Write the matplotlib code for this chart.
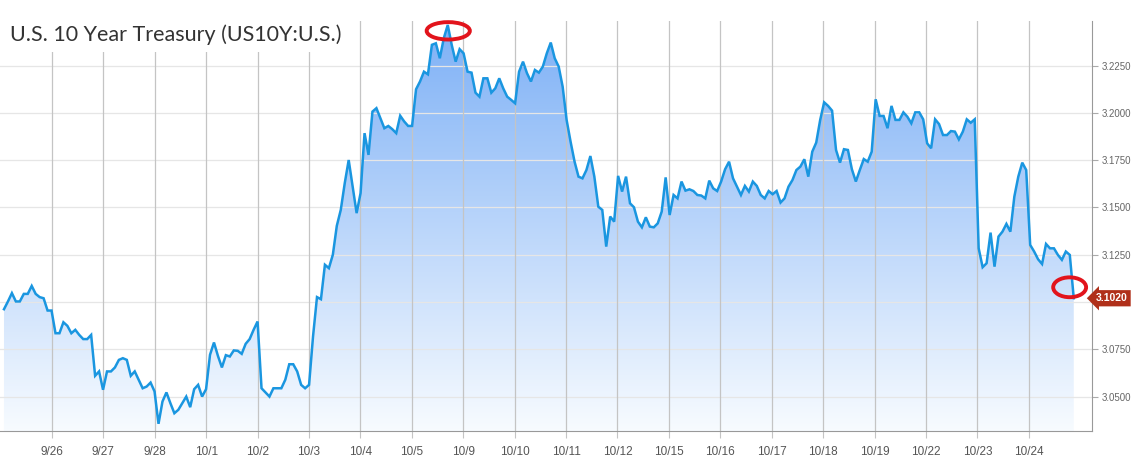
import numpy as np
import matplotlib
matplotlib.use("Agg")
import matplotlib.pyplot as plt
from matplotlib.patches import Ellipse, Rectangle
from matplotlib.transforms import blended_transform_factory

# intraday yield (one list per stretch of the chart)
late_sept = [3.0962, 3.1003, 3.1047, 3.1003, 3.1003, 3.1043, 3.1043, 3.1085, 3.1043, 3.1026,
             3.1020, 3.0955, 3.0955, 3.0835, 3.0835, 3.0893, 3.0874, 3.0835, 3.0853, 3.0826,
             3.0804, 3.0804, 3.0826, 3.0610, 3.0633, 3.0536, 3.0633, 3.0633, 3.0654, 3.0694,
             3.0703, 3.0694, 3.0610, 3.0633, 3.0589, 3.0544, 3.0553, 3.0574, 3.0527, 3.0356,
             3.0474, 3.0522, 3.0465, 3.0412, 3.0430, 3.0465, 3.0500, 3.0444, 3.0539, 3.0562,
             3.0500, 3.0539, 3.0721, 3.0786, 3.0715, 3.0654, 3.0719, 3.0712, 3.0744, 3.0742,
             3.0726, 3.0779, 3.0804, 3.0853, 3.0897, 3.0544, 3.0522, 3.0500, 3.0544, 3.0544,
             3.0544, 3.0589, 3.0671, 3.0671, 3.0633, 3.0562, 3.0544, 3.0562, 3.0818, 3.1026,
             3.1015]
early_oct = [3.1197, 3.1179, 3.1250, 3.1403, 3.1487, 3.1628, 3.1751, 3.1611, 3.1470, 3.1576,
             3.1893, 3.1778, 3.2007, 3.2025, 3.1972, 3.1919, 3.1931, 3.1914, 3.1893, 3.1985,
             3.1955, 3.1931, 3.1931, 3.2125, 3.2166, 3.2218, 3.2204, 3.2360, 3.2368, 3.2289,
             3.2395, 3.2465, 3.2360, 3.2271, 3.2337, 3.2315, 3.2218, 3.2213, 3.2107, 3.2086,
             3.2183, 3.2183, 3.2107, 3.2130, 3.2183, 3.2130, 3.2086, 3.2069, 3.2051, 3.2218,
             3.2271, 3.2210, 3.2166, 3.2227, 3.2213, 3.2245, 3.2315, 3.2372, 3.2289, 3.2245,
             3.2139, 3.1963, 3.1848, 3.1743, 3.1663]
mid_oct = [3.1654, 3.1698, 3.1772, 3.1663, 3.1504, 3.1487, 3.1293, 3.1452, 3.1425, 3.1667,
           3.1584, 3.1663, 3.1522, 3.1501, 3.1425, 3.1395, 3.1448, 3.1399, 3.1395, 3.1416,
           3.1478, 3.1659, 3.1460, 3.1566, 3.1548, 3.1637, 3.1589, 3.1596, 3.1587, 3.1566,
           3.1563, 3.1548, 3.1642, 3.1601, 3.1587, 3.1637, 3.1702, 3.1742, 3.1654, 3.1610,
           3.1566, 3.1614, 3.1584, 3.1637, 3.1614, 3.1566, 3.1548, 3.1587, 3.1570, 3.1587,
           3.1526, 3.1548, 3.1610, 3.1645, 3.1698, 3.1716, 3.1755, 3.1663, 3.1795, 3.1843,
           3.1963, 3.2056, 3.2037, 3.2012, 3.1804, 3.1737, 3.1808, 3.1804, 3.1702, 3.1637,
           3.1698, 3.1756, 3.1742, 3.1795, 3.2072]
late_oct = [3.1984, 3.1984, 3.1919, 3.2037, 3.1963, 3.1963, 3.2003, 3.1980, 3.1945, 3.2003,
            3.2003, 3.1966, 3.1839, 3.1813, 3.1966, 3.1941, 3.1883, 3.1883, 3.1904, 3.1901,
            3.1860, 3.1901, 3.1966, 3.1948, 3.1966, 3.1284, 3.1184, 3.1205, 3.1367, 3.1187,
            3.1346, 3.1372, 3.1413, 3.1372, 3.1557, 3.1663, 3.1737, 3.1698, 3.1302, 3.1267,
            3.1226, 3.1201, 3.1307, 3.1284, 3.1284, 3.1249, 3.1223, 3.1267, 3.1249, 3.1020]

day_labels = ["9/26", "9/27", "9/28", "10/1", "10/2", "10/3", "10/4", "10/5", "10/9", "10/10",
              "10/11", "10/12", "10/15", "10/16", "10/17", "10/18", "10/19", "10/22", "10/23", "10/24"]
y_ticks = [3.05, 3.075, 3.10, 3.125, 3.15, 3.175, 3.20, 3.225]
title = "U.S. 10 Year Treasury (US10Y:U.S.)"

#%%
yld = np.array(late_sept + early_oct + mid_oct + late_oct)
t = np.linspace(0.0665, 20.875, len(yld))   # trading-day units, day k starts at k
ylo, yhi = 3.0318, 3.2486
xlo, xhi = -0.011, 21.22

W, H = 1148, 466
fig = plt.figure(figsize=(W / 100, H / 100), dpi=100)
ax = fig.add_axes([0, 1 - 431 / H, 1091.5 / W, (431 - 21) / H])
ax.set_xlim(xlo, xhi)
ax.set_ylim(ylo, yhi)

# gradient fill under the line
grad = np.linspace(0, 1, 256)[:, None]
top = np.array([0.49, 0.69, 0.965])
bot = np.array([0.97, 0.985, 1.0])
img = grad[..., None] * top + (1 - grad[..., None]) * bot
im = ax.imshow(img, extent=[xlo, xhi, ylo, yhi], origin="lower", aspect="auto", zorder=1)
verts = np.vstack([[t[0], ylo], np.column_stack([t, yld]), [t[-1], ylo]])
clip = plt.Polygon(verts, closed=True, transform=ax.transData, fc="none", ec="none")
ax.add_patch(clip)
im.set_clip_path(clip)

ax.plot(t, yld, color="#1a96e0", lw=1.8, zorder=4, solid_joinstyle="miter")

# grid
for v in y_ticks:
    ax.axhline(v, color="#e6e6e6", lw=0.9, zorder=2)
days = np.arange(1, len(day_labels) + 1)
for d in days:
    ax.axvline(d, color="#c4c4c4", lw=0.9, zorder=2)

ax.set_xticks(days)
ax.set_xticklabels(day_labels, fontsize=8.5, color="#555555", family="Liberation Sans")
ax.tick_params(axis="x", length=5, color="#c4c4c4", pad=6)
ax.yaxis.tick_right()
ax.set_yticks(y_ticks)
# the 3.1000 label sits under the last-price tag
last = yld[-1]
ax.set_yticklabels(["" if abs(v - last) < 0.006 else "{:.4f}".format(v) for v in y_ticks],
                   fontsize=7, color="#666666", family="Liberation Sans")
ax.tick_params(axis="y", length=4, color="#aaaaaa", pad=3)
for s in ["top", "left"]:
    ax.spines[s].set_visible(False)
ax.spines["right"].set_color("#999999")
ax.spines["bottom"].set_color("#999999")
ax.set_facecolor("white")

# last price tag
tr = blended_transform_factory(ax.transAxes, ax.transData)
ax.text(1.0185, last, "{:.4f}".format(last), transform=tr, ha="center", va="center",
        fontsize=7.5, color="white", fontweight="bold", family="Liberation Sans", clip_on=False,
        bbox=dict(boxstyle="larrow,pad=0.3", fc="#b0301a", ec="none"), zorder=6)

# red rings drawn on the picture
imax = int(np.argmax(yld))
ax.add_patch(Ellipse((t[imax] + 0.01, yld[imax] - 0.0031), 0.84, 0.0092, fill=False,
                     ec="#e2141c", lw=2.8, zorder=7, clip_on=False))
ax.add_patch(Ellipse((t[-1] - 0.08, last + 0.0058), 0.64, 0.0105, fill=False,
                     ec="#e2141c", lw=2.8, zorder=7, clip_on=False))

# title on a white patch covering the grid
fig.add_artist(Rectangle((0, 1 - 52 / H), 350 / W, 34 / H, transform=fig.transFigure,
                         fc="white", ec="none", zorder=5))
fig.text(10 / W, 1 - 35 / H, title, fontsize=15.5, color="#333333", family="Lato",
         va="center", ha="left", zorder=6)

fig.savefig("out.png", dpi=100, facecolor="white")
